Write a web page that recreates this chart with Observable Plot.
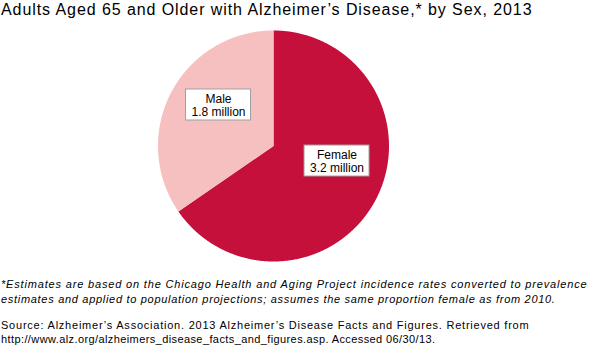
<!DOCTYPE html>
<html><head><meta charset="utf-8">
<script src="https://cdn.jsdelivr.net/npm/d3@7"></script>
<script src="https://cdn.jsdelivr.net/npm/@observablehq/plot@0.6"></script>
<style>
body{margin:0;width:600px;height:351px;position:relative;background:#fff;font-family:Arial,"Liberation Sans",sans-serif;overflow:hidden;color:#000}
#title{position:absolute;left:1px;top:0px;font-size:16px;line-height:20px;letter-spacing:0.92px;white-space:nowrap}
#chart{position:absolute;left:0;top:24px}
#note{position:absolute;left:1px;top:277px;font-size:11px;font-style:italic;line-height:14.5px;white-space:nowrap}
#source{position:absolute;left:1px;top:318px;font-size:11px;line-height:14px;white-space:nowrap}
.l1{letter-spacing:0.83px}
.l2{letter-spacing:0.7px}
.s1{letter-spacing:0.77px}
.s2{letter-spacing:0.4px}
</style>
</head><body>
<div id="title">Adults Aged 65 and Older with Alzheimer’s Disease,* by Sex, 2013</div>
<div id="chart"></div>
<div id="note"><span class="l1">*Estimates are based on the Chicago Health and Aging Project incidence rates converted to prevalence</span><br><span class="l2">estimates and applied to population projections; assumes the same proportion female as from 2010.</span></div>
<div id="source"><span class="s1">Source: Alzheimer’s Association. 2013 Alzheimer’s Disease Facts and Figures. Retrieved from</span><br><span class="s2">http://www.alz.org/alzheimers_disease_facts_and_figures.asp. Accessed 06/30/13.</span></div>
<script>
// Data
const categories = ["Female", "Male"];
const valuesMillions = [3.2, 1.8];          // label values (millions)
const sliceShares = [65.4, 34.6];            // percent
const colors = ["#c4103a", "#f6c0c0"];

// Layout constants
const W = 600, H = 250, R = 115.5, CX = 273, CY = 121.5;
const labelAnchor = {Female: [0.55, -0.13], Male: [-0.476, 0.355]};
const boxW = 65 / R, boxH = 31 / R;

// Build slice outlines (unit circle, clockwise from 12 o'clock)
const pts = [];
let start = 0;
categories.forEach((c, i) => {
  const sweep = sliceShares[i] / 100 * 360;
  const n = Math.ceil(sweep * 2);
  pts.push({cat: c, x: 0, y: 0});
  for (let k = 0; k <= n; k++) {
    const a = (start + sweep * k / n) * Math.PI / 180;
    pts.push({cat: c, x: Math.sin(a), y: Math.cos(a)});
  }
  pts.push({cat: c, x: 0, y: 0});
  start += sweep;
});

const labels = categories.map((c, i) => ({
  cat: c,
  x: labelAnchor[c][0],
  y: labelAnchor[c][1],
  text: `${c}\n${valuesMillions[i].toFixed(1)} million`
}));

const chart = Plot.plot({
  width: W, height: H,
  marginLeft: 0, marginRight: 0, marginTop: 0, marginBottom: 0,
  x: {domain: [-CX / R, (W - CX) / R], axis: null},
  y: {domain: [-(H - CY) / R, CY / R], axis: null},
  color: {domain: categories, range: colors},
  style: {fontFamily: "Arial, 'Liberation Sans', sans-serif", background: "white", color: "black"},
  marks: [
    Plot.line(pts, {x: "x", y: "y", z: "cat", fill: "cat", stroke: "none", curve: "linear"}),
    Plot.rect(labels, {x1: d => d.x - boxW / 2, x2: d => d.x + boxW / 2, y1: d => d.y - boxH / 2, y2: d => d.y + boxH / 2, fill: "white", stroke: "#a0a0a0", strokeWidth: 1}),
    Plot.text(labels, {x: "x", y: "y", text: "text", fontSize: 12, lineHeight: 1.08, fill: "black", lineAnchor: "middle"})
  ]
});
document.getElementById("chart").appendChild(chart);
</script>
</body></html>
